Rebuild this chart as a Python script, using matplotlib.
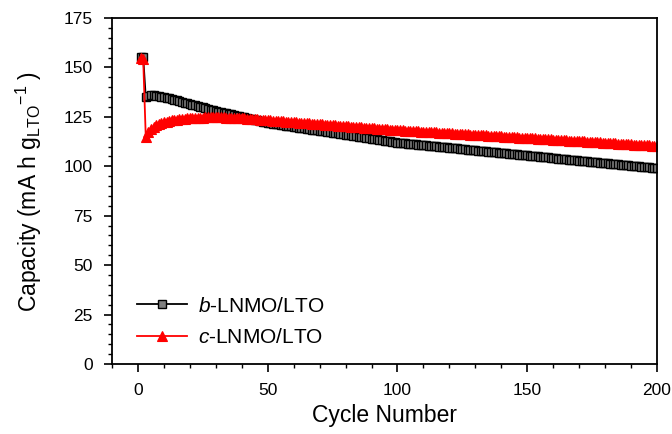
import matplotlib
matplotlib.use("Agg")
import matplotlib.pyplot as plt
from matplotlib.ticker import MultipleLocator

plt.rcParams['font.family'] = ['Liberation Sans', 'DejaVu Sans']
plt.rcParams['mathtext.fontset'] = 'custom'
plt.rcParams['mathtext.rm'] = 'Liberation Sans'
plt.rcParams['mathtext.it'] = 'Liberation Sans:italic'

b_capacity = [
    155.5, 155.5, 135.0, 135.5, 136.0, 136.0, 135.8, 135.5, 135.2, 134.9,
    134.6, 134.3, 134.0, 133.6, 133.3, 132.9, 132.6, 132.2, 131.9, 131.5,
    131.2, 130.8, 130.5, 130.1, 129.8, 129.4, 129.1, 128.7, 128.4, 128.0,
    127.7, 127.4, 127.1, 126.8, 126.5, 126.2, 125.9, 125.6, 125.3, 125.0,
    124.7, 124.4, 124.1, 123.8, 123.5, 123.2, 122.9, 122.6, 122.3, 122.0,
    121.8, 121.6, 121.4, 121.2, 121.0, 120.8, 120.6, 120.4, 120.2, 120.0,
    119.8, 119.6, 119.4, 119.2, 119.0, 118.8, 118.6, 118.4, 118.2, 118.0,
    117.8, 117.6, 117.4, 117.2, 117.0, 116.8, 116.6, 116.4, 116.2, 116.0,
    115.8, 115.6, 115.4, 115.2, 115.0, 114.8, 114.6, 114.4, 114.2, 114.0,
    113.8, 113.6, 113.4, 113.2, 113.0, 112.8, 112.6, 112.4, 112.2, 112.0,
    111.87, 111.74, 111.61, 111.48, 111.35, 111.22, 111.09, 110.96, 110.83, 110.7,
    110.57, 110.44, 110.31, 110.18, 110.05, 109.92, 109.79, 109.66, 109.53, 109.4,
    109.27, 109.14, 109.01, 108.88, 108.75, 108.62, 108.49, 108.36, 108.23, 108.1,
    107.97, 107.84, 107.71, 107.58, 107.45, 107.32, 107.19, 107.06, 106.93, 106.8,
    106.67, 106.54, 106.41, 106.28, 106.15, 106.02, 105.89, 105.76, 105.63, 105.5,
    105.37, 105.24, 105.11, 104.98, 104.85, 104.72, 104.59, 104.46, 104.33, 104.2,
    104.07, 103.94, 103.81, 103.68, 103.55, 103.42, 103.29, 103.16, 103.03, 102.9,
    102.77, 102.64, 102.51, 102.38, 102.25, 102.12, 101.99, 101.86, 101.73, 101.6,
    101.47, 101.34, 101.21, 101.08, 100.95, 100.82, 100.69, 100.56, 100.43, 100.3,
    100.17, 100.04, 99.91, 99.78, 99.65, 99.52, 99.39, 99.26, 99.13, 99.0,
]

c_capacity = [
    155.0, 154.5, 115.0, 117.5, 119.0, 120.0, 120.8, 121.4, 121.9, 122.3,
    122.6, 122.9, 123.2, 123.4, 123.6, 123.8, 124.0, 124.1, 124.2, 124.3,
    124.4, 124.5, 124.55, 124.6, 124.65, 124.7, 124.7, 124.75, 124.75, 124.75,
    124.75, 124.7, 124.7, 124.65, 124.6, 124.55, 124.5, 124.45, 124.4, 124.3,
    124.2, 124.1, 124.0, 123.9, 123.8, 123.7, 123.6, 123.5, 123.4, 123.3,
    123.2, 123.1, 123.0, 122.9, 122.8, 122.7, 122.6, 122.5, 122.4, 122.3,
    122.2, 122.1, 122.0, 121.9, 121.8, 121.7, 121.6, 121.5, 121.4, 121.3,
    121.2, 121.1, 121.0, 120.9, 120.8, 120.7, 120.6, 120.5, 120.4, 120.3,
    120.2, 120.1, 120.0, 119.9, 119.8, 119.7, 119.6, 119.5, 119.4, 119.3,
    119.2, 119.1, 119.0, 118.9, 118.8, 118.7, 118.6, 118.5, 118.4, 118.3,
    118.22, 118.14, 118.06, 117.98, 117.9, 117.82, 117.74, 117.66, 117.58, 117.5,
    117.42, 117.34, 117.26, 117.18, 117.1, 117.02, 116.94, 116.86, 116.78, 116.7,
    116.62, 116.54, 116.46, 116.38, 116.3, 116.22, 116.14, 116.06, 115.98, 115.9,
    115.82, 115.74, 115.66, 115.58, 115.5, 115.42, 115.34, 115.26, 115.18, 115.1,
    115.02, 114.94, 114.86, 114.78, 114.7, 114.62, 114.54, 114.46, 114.38, 114.3,
    114.22, 114.14, 114.06, 113.98, 113.9, 113.82, 113.74, 113.66, 113.58, 113.5,
    113.42, 113.34, 113.26, 113.18, 113.1, 113.02, 112.94, 112.86, 112.78, 112.7,
    112.62, 112.54, 112.46, 112.38, 112.3, 112.22, 112.14, 112.06, 111.98, 111.9,
    111.82, 111.74, 111.66, 111.58, 111.5, 111.42, 111.34, 111.26, 111.18, 111.1,
    111.02, 110.94, 110.86, 110.78, 110.7, 110.62, 110.54, 110.46, 110.38, 110.3,
]

cycles = list(range(1, len(b_capacity) + 1))
labels = ["-LNMO/LTO", "-LNMO/LTO"]

fig = plt.figure(figsize=(6.72, 4.34), dpi=100)
ax = fig.add_axes([0.1667, 0.1613, 0.8110, 0.7972])

ax.plot(cycles, b_capacity, color='black', lw=1.3, marker='s', ms=6,
        mfc='#808080', mec='black', mew=1.0, label=r'$\mathit{b}$' + labels[0])
ax.plot(cycles, c_capacity, color='red', lw=1.3, marker='^', ms=7,
        mfc='red', mec='red', mew=0.8, label=r'$\mathit{c}$' + labels[1])

ax.set_xlim(-10, 200)
ax.set_ylim(0, 175)
ax.xaxis.set_major_locator(MultipleLocator(50))
ax.xaxis.set_minor_locator(MultipleLocator(10))
ax.yaxis.set_major_locator(MultipleLocator(25))
ax.yaxis.set_minor_locator(MultipleLocator(5))
ax.tick_params(which='major', direction='out', length=6, width=1.2, labelsize=12.5, pad=8)
ax.tick_params(which='minor', direction='out', length=3, width=1.0)
for s in ax.spines.values():
    s.set_linewidth(1.3)

ax.set_xlabel('Cycle Number', fontsize=16.5, labelpad=4)
ax.set_ylabel(r'Capacity (mA h g$_\mathregular{LTO}$$^\mathregular{-1}$ )', fontsize=16.5, labelpad=14)

leg = ax.legend(loc='lower left', bbox_to_anchor=(0.03, 0.025), frameon=False,
                fontsize=15, handlelength=2.4, handletextpad=0.55, labelspacing=0.6,
                borderaxespad=0)

fig.savefig('out.png', dpi=100)
